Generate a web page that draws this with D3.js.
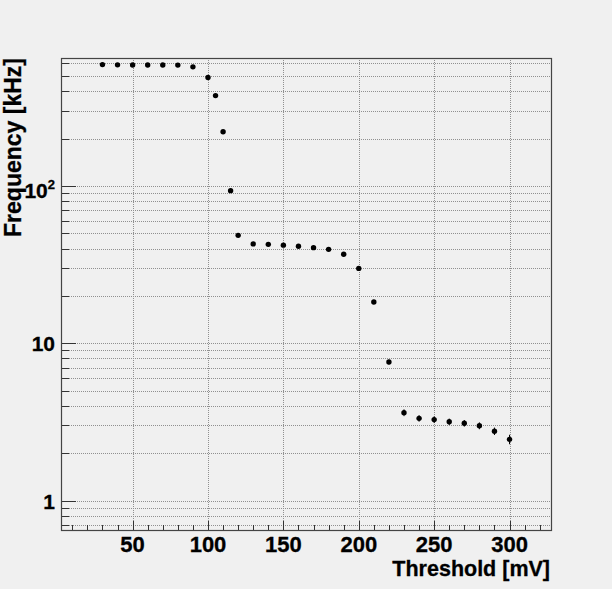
<!DOCTYPE html>
<html>
<head>
<meta charset="utf-8">
<script src="https://cdn.jsdelivr.net/npm/d3@7"></script>
<style>
  html, body { margin: 0; padding: 0; background: #f0f0f0; }
  svg { display: block; font-family: "Liberation Sans", Arial, Helvetica, sans-serif; }
</style>
</head>
<body>
<svg id="chart"></svg>
<script>
// threshold scan: rate vs discriminator threshold
const thresholds = [30, 40, 50, 60, 70, 80, 90, 100, 105, 110, 115, 120, 130, 140, 150,
  160, 170, 180, 190, 200, 210, 220, 230, 240, 250, 260, 270, 280, 290, 300];
const frequency = [590, 588, 587, 587, 587, 586, 571, 489, 375, 221, 93.3, 48.5, 42.8, 42.5, 42.0,
  41.3, 40.5, 39.5, 36.8, 29.9, 18.3, 7.6, 3.62, 3.33, 3.27, 3.17, 3.10, 2.99, 2.76, 2.45];
const freqError = [2, 2, 2, 2, 2, 2, 2, 2, 2, 1.5, 1, 0.6, 0.6, 0.6, 0.6,
  0.6, 0.6, 0.6, 0.6, 0.5, 0.4, 0.25, 0.18, 0.16, 0.16, 0.15, 0.15, 0.15, 0.15, 0.17];
const xTicks = [50, 100, 150, 200, 250, 300];
const yMajor = [1, 10, 100];
const yTickLabels = [['1', ''], ['10', ''], ['10', '2']];

const state = {
  width: 612,
  height: 589,
  frame: { left: 61, right: 551, top: 58, bottom: 530 },
};

const svg = d3.select('#chart')
  .attr('width', state.width)
  .attr('height', state.height);

svg.append('rect')
  .attr('width', state.width)
  .attr('height', state.height)
  .attr('fill', '#f0f0f0');

const f = state.frame;
const x = d3.scaleLinear().domain([2.5, 327.5]).range([f.left, f.right]);
const y = d3.scaleLog().domain([0.65, 650]).range([f.bottom, f.top]);

// minor y values (1..9 per decade) inside the domain
const yAll = [];
[0.1, 1, 10, 100].forEach(dec => {
  for (let k = 1; k <= 9; k++) {
    const v = dec * k;
    if (v >= y.domain()[0] && v <= y.domain()[1]) yAll.push(v);
  }
});
const xMinor = d3.range(10, 330, 10);

// grid
const grid = svg.append('g').attr('class', 'grid')
  .attr('stroke', '#909090')
  .attr('stroke-width', 1)
  .attr('stroke-dasharray', '1,1');

grid.selectAll('.hgrid')
  .data(yAll)
  .enter()
  .append('line')
  .attr('x1', f.left)
  .attr('x2', f.right)
  .attr('y1', d => Math.round(y(d)) + 0.5)
  .attr('y2', d => Math.round(y(d)) + 0.5);

grid.selectAll('.vgrid')
  .data(xTicks)
  .enter()
  .append('line')
  .attr('y1', f.top)
  .attr('y2', f.bottom)
  .attr('x1', d => Math.round(x(d)) + 0.5)
  .attr('x2', d => Math.round(x(d)) + 0.5);

// ticks (drawn inside the frame, ROOT style)
const ticks = svg.append('g').attr('stroke', '#333').attr('stroke-width', 1);

ticks.selectAll('.xt')
  .data(xMinor)
  .enter()
  .append('line')
  .attr('x1', d => Math.round(x(d)) + 0.5)
  .attr('x2', d => Math.round(x(d)) + 0.5)
  .attr('y1', f.bottom)
  .attr('y2', d => f.bottom - (d % 50 === 0 ? 9 : 5));

ticks.selectAll('.yt')
  .data(yAll)
  .enter()
  .append('line')
  .attr('y1', d => Math.round(y(d)) + 0.5)
  .attr('y2', d => Math.round(y(d)) + 0.5)
  .attr('x1', f.left)
  .attr('x2', d => f.left + (yMajor.includes(d) ? 15 : 8));

// frame
svg.append('rect')
  .attr('x', f.left + 0.5)
  .attr('y', f.top + 0.5)
  .attr('width', f.right - f.left)
  .attr('height', f.bottom - f.top)
  .attr('fill', 'none')
  .attr('stroke', '#444')
  .attr('stroke-width', 1.2);

// tick labels
svg.append('g')
  .selectAll('text')
  .data(xTicks)
  .enter()
  .append('text')
  .attr('x', d => x(d))
  .attr('y', 552)
  .attr('text-anchor', 'middle')
  .attr('font-size', 22)
  .attr('font-weight', 'bold')
  .attr('fill', '#000')
  .attr('stroke', '#000')
  .attr('stroke-width', 0.3)
  .text(d => d);

const yl = svg.append('g')
  .selectAll('text')
  .data(yMajor)
  .enter()
  .append('text')
  .attr('x', 55)
  .attr('y', (d, i) => y(d) + (i === 2 ? 12 : 8))
  .attr('text-anchor', 'end')
  .attr('font-size', 21)
  .attr('font-weight', 'bold')
  .attr('fill', '#000')
  .attr('stroke', '#000')
  .attr('stroke-width', 0.3);
yl.append('tspan').text((d, i) => yTickLabels[i][0]);
yl.append('tspan')
  .attr('font-size', 13)
  .attr('dy', -9)
  .text((d, i) => yTickLabels[i][1]);

// axis titles
svg.append('text')
  .attr('x', 550)
  .attr('y', 576)
  .attr('text-anchor', 'end')
  .attr('font-size', 21.5)
  .attr('font-weight', 'bold')
  .attr('stroke', '#000')
  .attr('stroke-width', 0.3)
  .text('Threshold [mV]');

svg.append('text')
  .attr('transform', 'translate(21,58) rotate(-90)')
  .attr('text-anchor', 'end')
  .attr('font-size', 23)
  .attr('font-weight', 'bold')
  .attr('stroke', '#000')
  .attr('stroke-width', 0.3)
  .text('Frequency [kHz]');

// error bars and markers
const pts = thresholds.map((t, i) => ({ t, v: frequency[i], e: freqError[i] }));

svg.append('g')
  .selectAll('line')
  .data(pts)
  .enter()
  .append('line')
  .attr('x1', d => x(d.t))
  .attr('x2', d => x(d.t))
  .attr('y1', d => y(d.v + d.e))
  .attr('y2', d => y(d.v - d.e))
  .attr('stroke', '#000')
  .attr('stroke-width', 1);

svg.append('g')
  .selectAll('circle')
  .data(pts)
  .enter()
  .append('circle')
  .attr('cx', d => x(d.t))
  .attr('cy', d => y(d.v))
  .attr('r', 2.7)
  .attr('fill', '#000');
</script>
</body>
</html>
